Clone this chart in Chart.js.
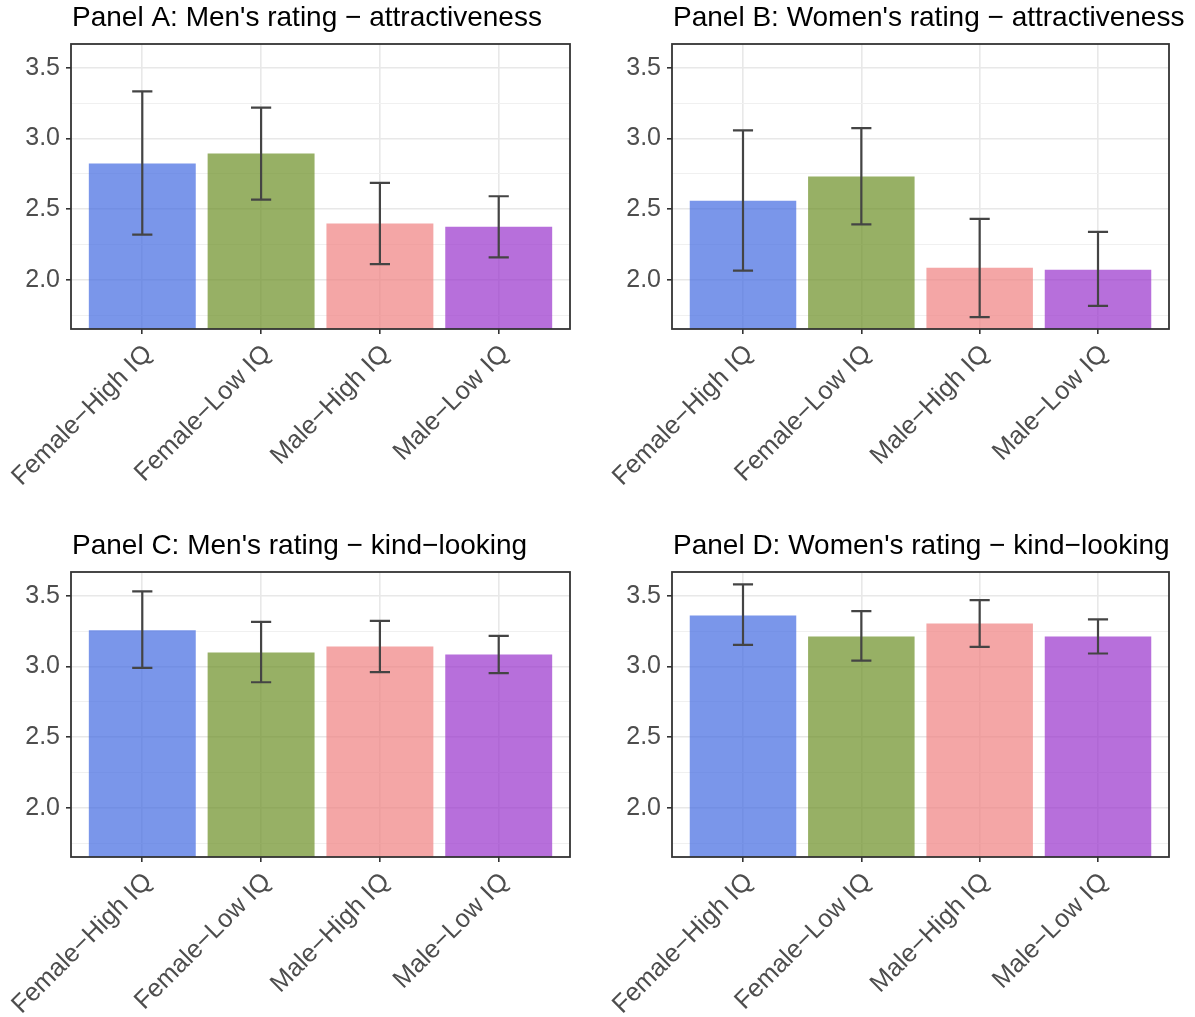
<!DOCTYPE html>
<html>
<head>
<meta charset="utf-8">
<script src="https://cdn.jsdelivr.net/npm/chart.js@4.4.1/dist/chart.umd.min.js"></script>
<style>
  body { margin: 0; background: #fff; }
  canvas { position: absolute; }
</style>
</head>
<body>
<canvas id="panelA" width="597" height="528" style="left:0;top:0"></canvas>
<canvas id="panelB" width="594" height="528" style="left:601px;top:0"></canvas>
<canvas id="panelC" width="597" height="489" style="left:0;top:528px"></canvas>
<canvas id="panelD" width="594" height="489" style="left:601px;top:528px"></canvas>
<script>
const groups = ["Female\u2212High IQ", "Female\u2212Low IQ", "Male\u2212High IQ", "Male\u2212Low IQ"];
const groupPos = [1, 2, 3, 4];

// Panel A: men's rating, attractiveness
const menAttrMean = [2.823, 2.894, 2.399, 2.377];
const menAttrLow  = [2.321, 2.568, 2.113, 2.160];
const menAttrHigh = [3.333, 3.219, 2.686, 2.592];
// Panel B: women's rating, attractiveness
const womenAttrMean = [2.561, 2.731, 2.087, 2.073];
const womenAttrLow  = [2.066, 2.394, 1.738, 1.818];
const womenAttrHigh = [3.057, 3.073, 2.432, 2.340];
// Panel C: men's rating, kind-looking
const menKindMean = [3.257, 3.099, 3.142, 3.085];
const menKindLow  = [2.991, 2.889, 2.960, 2.953];
const menKindHigh = [3.531, 3.316, 3.323, 3.217];
// Panel D: women's rating, kind-looking
const womenKindMean = [3.361, 3.212, 3.304, 3.212];
const womenKindLow  = [3.153, 3.042, 3.139, 3.092];
const womenKindHigh = [3.580, 3.392, 3.469, 3.333];

const majorTicks = [2.0, 2.5, 3.0, 3.5];
const minorTicks = [1.75, 2.25, 2.75, 3.25];

const barColors = [
    "rgba(65, 105, 225, 0.7)",
    "rgba(107, 142, 35, 0.7)",
    "rgba(240, 128, 128, 0.7)",
    "rgba(153, 50, 204, 0.7)"
];
const font = "Liberation Sans";

const panelTitle = {
    id: "panelTitle",
    afterDraw(chart, args, opts) {
        const ctx = chart.ctx;
        ctx.save();
        ctx.font = `28px '${font}'`;
        ctx.fillStyle = "#000";
        ctx.textBaseline = "alphabetic";
        ctx.fillText(opts.text, chart.chartArea.left + 1, 26);
        ctx.restore();
    }
};

const errorBars = {
    id: "errorBars",
    afterDatasetsDraw(chart, args, opts) {
        const ctx = chart.ctx;
        const x = chart.scales.x;
        const y = chart.scales.y;
        const capHalf = 0.085 * (x.getPixelForValue(2) - x.getPixelForValue(1));
        ctx.save();
        ctx.strokeStyle = "#444444";
        ctx.lineWidth = 2.2;
        chart.getDatasetMeta(0).data.forEach((bar, i) => {
            const top = y.getPixelForValue(opts.high[i]);
            const bot = y.getPixelForValue(opts.low[i]);
            ctx.beginPath();
            ctx.moveTo(bar.x, top);
            ctx.lineTo(bar.x, bot);
            ctx.moveTo(bar.x - capHalf, top);
            ctx.lineTo(bar.x + capHalf, top);
            ctx.moveTo(bar.x - capHalf, bot);
            ctx.lineTo(bar.x + capHalf, bot);
            ctx.stroke();
        });
        ctx.restore();
    }
};

const frame = {
    id: "frame",
    afterDraw(chart) {
        const a = chart.chartArea;
        const ctx = chart.ctx;
        ctx.save();
        ctx.strokeStyle = "#333333";
        ctx.lineWidth = 1.8;
        ctx.strokeRect(a.left, a.top, a.right - a.left, a.bottom - a.top);
        ctx.restore();
    }
};

const isMajor = (v) => majorTicks.includes(v);

function makePanel(id, title, means, lows, highs, padRight) {
    return new Chart(document.getElementById(id), {
        type: "bar",
        data: {
            datasets: [{
                data: means.map((m, i) => ({ x: groupPos[i], y: m })),
                backgroundColor: barColors,
                borderWidth: 0,
                barPercentage: 0.9,
                categoryPercentage: 1.0
            }]
        },
        options: {
            responsive: false,
            animation: false,
            layout: { autoPadding: false, padding: { top: 44, right: padRight, left: 0, bottom: 0 } },
            plugins: {
                legend: { display: false },
                tooltip: { enabled: false },
                panelTitle: { text: title },
                errorBars: { low: lows, high: highs }
            },
            scales: {
                x: {
                    type: "linear",
                    min: 0.4,
                    max: 4.6,
                    offset: false,
                    afterBuildTicks: (axis) => { axis.ticks = groupPos.map(v => ({ value: v })); },
                    afterFit: (axis) => {
                        axis.height = axis.chart.height - 329;
                        axis.paddingLeft = 0;
                        axis.paddingRight = 0;
                    },
                    border: { display: false },
                    grid: {
                        offset: false,
                        color: "#e8e8e8",
                        lineWidth: 1.6,
                        tickLength: 5,
                        tickColor: "#333333",
                        tickWidth: 1.6
                    },
                    ticks: {
                        callback: (v) => groups[v - 1],
                        color: "#4d4d4d",
                        font: { family: font, size: 25.5 },
                        minRotation: 45,
                        maxRotation: 45,
                        autoSkip: false,
                        padding: 5,
                        labelOffset: 6
                    }
                },
                y: {
                    min: 1.654,
                    max: 3.668,
                    beginAtZero: false,
                    afterBuildTicks: (axis) => {
                        axis.ticks = minorTicks.concat(majorTicks).sort((a, b) => a - b).map(v => ({ value: v }));
                    },
                    afterFit: (axis) => {
                        axis.width = 71;
                        axis.paddingTop = 0;
                        axis.paddingBottom = 0;
                    },
                    border: { display: false },
                    grid: {
                        color: (ctx) => isMajor(ctx.tick.value) ? "#e8e8e8" : "#f0f0f0",
                        lineWidth: (ctx) => isMajor(ctx.tick.value) ? 1.6 : 1,
                        tickLength: 5,
                        tickColor: (ctx) => isMajor(ctx.tick.value) ? "#333333" : "rgba(0,0,0,0)",
                        tickWidth: 1.6
                    },
                    ticks: {
                        callback: (v) => isMajor(v) ? v.toFixed(1) : "",
                        color: "#4d4d4d",
                        font: { family: font, size: 25 },
                        padding: 6
                    }
                }
            }
        },
        plugins: [errorBars, frame, panelTitle]
    });
}

makePanel("panelA", "Panel A: Men's rating \u2212 attractiveness", menAttrMean, menAttrLow, menAttrHigh, 27);
makePanel("panelB", "Panel B: Women's rating \u2212 attractiveness", womenAttrMean, womenAttrLow, womenAttrHigh, 26);
makePanel("panelC", "Panel C: Men's rating \u2212 kind\u2212looking", menKindMean, menKindLow, menKindHigh, 27);
makePanel("panelD", "Panel D: Women's rating \u2212 kind\u2212looking", womenKindMean, womenKindLow, womenKindHigh, 26);
</script>
</body>
</html>
